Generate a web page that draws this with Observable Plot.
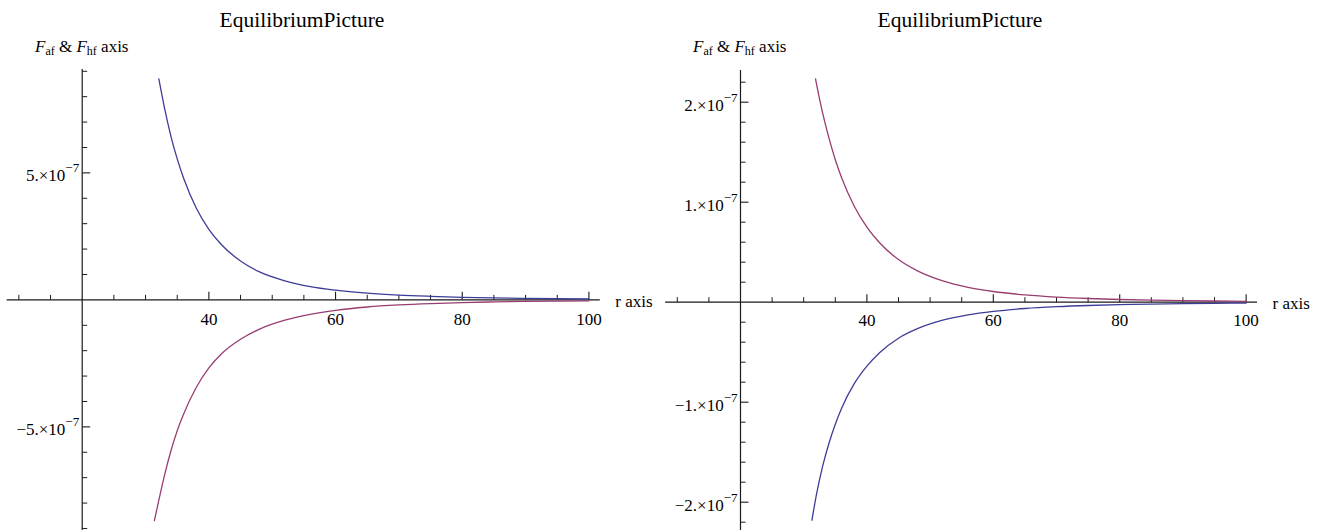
<!DOCTYPE html>
<html><head><meta charset="utf-8">
<script src="https://cdn.jsdelivr.net/npm/d3@7"></script>
<script src="https://cdn.jsdelivr.net/npm/@observablehq/plot@0.6"></script>
<style>
html,body{margin:0;padding:0;background:#fff;}
#wrap{display:flex;width:1320px;height:530px;overflow:hidden;}
.panel{position:relative;width:660px;height:530px;}
.title{position:absolute;top:10px;font:21.5px 'Liberation Serif',serif;line-height:1;white-space:nowrap;transform:translateX(-50%);color:#000;}
.ylab{position:absolute;top:38px;font:17px 'Liberation Serif',serif;line-height:1;white-space:nowrap;color:#000;}
.ylab i{font-style:italic;}
.ylab sub{font-size:12px;vertical-align:baseline;position:relative;top:3px;}
.plot{position:absolute;left:0;top:62px;}
</style></head><body><div id="wrap"></div><script>
// ---------- data ----------
const chartTitle = "EquilibriumPicture";
const xAxisLabel = "r axis";

// Left panel: blue (positive) and purple (negative) curves
const leftBlueR = [32.1, 33, 34, 35, 36, 38, 40, 42, 45, 48, 52, 56, 60, 65, 70, 75, 80, 85, 90, 95, 100];
const leftBlueV = [8.70e-7, 7.55e-7, 6.45e-7, 5.55e-7, 4.80e-7, 3.62e-7, 2.78e-7, 2.17e-7, 1.53e-7, 1.10e-7, 0.75e-7, 0.52e-7, 0.38e-7, 0.265e-7, 0.19e-7, 0.14e-7, 0.10e-7, 0.075e-7, 0.058e-7, 0.045e-7, 0.036e-7];
const leftPurpleR = [31.4, 32, 33, 34, 35, 36, 38, 40, 42, 45, 48, 52, 56, 60, 65, 70, 75, 80, 85, 90, 95, 100];
const leftPurpleV = [-8.69e-7, -8.0e-7, -6.9e-7, -5.95e-7, -5.15e-7, -4.5e-7, -3.45e-7, -2.68e-7, -2.12e-7, -1.55e-7, -1.15e-7, -0.80e-7, -0.57e-7, -0.41e-7, -0.28e-7, -0.20e-7, -0.145e-7, -0.105e-7, -0.08e-7, -0.06e-7, -0.047e-7, -0.037e-7];

// Right panel: purple (positive) and blue (negative) curves
const rightPurpleR = [31.87, 32, 33, 34, 35, 36, 38, 40, 42, 45, 48, 52, 56, 60, 65, 70, 75, 80, 85, 90, 95, 100];
const rightPurpleV = [2.234e-7, 2.19e-7, 1.89e-7, 1.64e-7, 1.425e-7, 1.245e-7, 0.96e-7, 0.75e-7, 0.594e-7, 0.426e-7, 0.313e-7, 0.213e-7, 0.149e-7, 0.107e-7, 0.073e-7, 0.051e-7, 0.037e-7, 0.027e-7, 0.020e-7, 0.0153e-7, 0.0118e-7, 0.0092e-7];
const rightBlueR = [31.3, 32, 33, 34, 35, 36, 38, 40, 42, 45, 48, 52, 56, 60, 65, 70, 75, 80, 85, 90, 95, 100];
const rightBlueV = [-2.18e-7, -1.93e-7, -1.64e-7, -1.41e-7, -1.22e-7, -1.06e-7, -0.815e-7, -0.64e-7, -0.505e-7, -0.36e-7, -0.265e-7, -0.18e-7, -0.127e-7, -0.092e-7, -0.063e-7, -0.045e-7, -0.033e-7, -0.025e-7, -0.019e-7, -0.0145e-7, -0.0113e-7, -0.009e-7];

// axes / ticks
const xDomain = [8.15, 101.8];
const xOrigin = 20;
const xMajorTicks = [40, 60, 80, 100];
const xMinorTicks = [10, 15, 25, 30, 35, 45, 50, 55, 65, 70, 75, 85, 90, 95];
const xTickLabels = ["40", "60", "80", "100"];

const leftYDomain = [-9.08e-7, 9.07e-7];
const leftYMajorTicks = [-5e-7, 5e-7];
const leftYMinorTicks = [-9e-7, -8e-7, -7e-7, -6e-7, -4e-7, -3e-7, -2e-7, -1e-7, 1e-7, 2e-7, 3e-7, 4e-7, 6e-7, 7e-7, 8e-7, 9e-7];
const leftYTickLabels = ["\u22125.\u00d710^\u22127", "5.\u00d710^\u22127"];

const rightYDomain = [-2.283e-7, 2.317e-7];
const rightYMajorTicks = [-2e-7, -1e-7, 1e-7, 2e-7];
const rightYMinorTicks = [-2.2e-7, -1.8e-7, -1.6e-7, -1.4e-7, -1.2e-7, -0.8e-7, -0.6e-7, -0.4e-7, -0.2e-7, 0.2e-7, 0.4e-7, 0.6e-7, 0.8e-7, 1.2e-7, 1.4e-7, 1.6e-7, 1.8e-7, 2.2e-7];
const rightYTickLabels = ["\u22122.\u00d710^\u22127", "\u22121.\u00d710^\u22127", "1.\u00d710^\u22127", "2.\u00d710^\u22127"];

const BLUE = "#3d3d99";
const PURPLE = "#993d71";
const AXIS = "#1a1a1a";
const SERIF = "Liberation Serif";

// tick symbols (line segments drawn from the anchor point)
const tickUp = {draw(ctx, size) { const l = Math.sqrt(size / Math.PI); ctx.moveTo(0, 0); ctx.lineTo(0, -l); }};
const tickRight = {draw(ctx, size) { const l = Math.sqrt(size / Math.PI); ctx.moveTo(0, 0); ctx.lineTo(l, 0); }};

function rows(rs, vs) { return rs.map((r, i) => ({r, v: vs[i]})); }

function makePlot(cfg) {
  const svg = Plot.plot({
    width: 660,
    height: 468,
    marginLeft: cfg.marginLeft,
    marginRight: cfg.marginRight,
    marginTop: cfg.marginTop,
    marginBottom: 0,
    style: {fontFamily: SERIF, fontSize: "17px", background: "#fff", color: "#000", overflow: "visible"},
    x: {domain: xDomain, axis: null},
    y: {domain: cfg.yDomain, axis: null},
    marks: [
      Plot.ruleY([0], {stroke: AXIS, strokeWidth: 1.2}),
      Plot.ruleX([xOrigin], {stroke: AXIS, strokeWidth: 1.2}),
      Plot.dot(xMinorTicks, {x: d => d, y: 0, r: 5, symbol: tickUp, fill: "none", stroke: AXIS, strokeWidth: 1}),
      Plot.dot(xMajorTicks, {x: d => d, y: 0, r: 8, symbol: tickUp, fill: "none", stroke: AXIS, strokeWidth: 1.1}),
      Plot.dot(cfg.yMinor, {x: xOrigin, y: d => d, r: 5, symbol: tickRight, fill: "none", stroke: AXIS, strokeWidth: 1}),
      Plot.dot(cfg.yMajor, {x: xOrigin, y: d => d, r: 8, symbol: tickRight, fill: "none", stroke: AXIS, strokeWidth: 1.1}),
      Plot.text(xMajorTicks, {x: d => d, y: 0, text: (d, i) => xTickLabels[i], dy: cfg.xLabelDy, fontSize: 17, fontFamily: SERIF, fill: "#000"}),
      Plot.text(cfg.yMajor, {x: xOrigin, y: d => d, text: (d, i) => cfg.yLabels[i], textAnchor: "end", dx: -3, dy: 3, fontSize: 17, fontFamily: SERIF, fill: "#000"}),
      Plot.text([xAxisLabel], {x: xDomain[1], y: 0, text: d => d, textAnchor: "start", dx: 15, dy: cfg.rLabelDy, fontSize: 17, fontFamily: SERIF, fill: "#000"}),
      Plot.line(rows(cfg.s1r, cfg.s1v), {x: "r", y: "v", stroke: cfg.s1c, strokeWidth: 1.3, curve: "monotone-x"}),
      Plot.line(rows(cfg.s2r, cfg.s2v), {x: "r", y: "v", stroke: cfg.s2c, strokeWidth: 1.3, curve: "monotone-x"})
    ]
  });
  // turn "a^b" labels into mantissa + superscript exponent
  d3.select(svg).selectAll("text").each(function() {
    const s = this.textContent;
    const k = s.indexOf("^");
    if (k < 0) return;
    const t = d3.select(this);
    t.text(null);
    t.append("tspan").text(s.slice(0, k));
    t.append("tspan").attr("dy", -9).attr("font-size", 13).text(s.slice(k + 1));
  });
  return svg;
}

function makePanel(cfg) {
  const p = document.createElement("div");
  p.className = "panel";
  const t = document.createElement("div");
  t.className = "title";
  t.style.left = cfg.titleX + "px";
  t.textContent = chartTitle;
  const yl = document.createElement("div");
  yl.className = "ylab";
  yl.style.left = cfg.ylabX + "px";
  yl.innerHTML = "<i>F</i><sub>af</sub> &amp; <i>F</i><sub>hf</sub> axis";
  const holder = document.createElement("div");
  holder.className = "plot";
  holder.appendChild(makePlot(cfg));
  p.appendChild(t); p.appendChild(yl); p.appendChild(holder);
  return p;
}

const wrap = document.getElementById("wrap");
wrap.appendChild(makePanel({
  titleX: 302, ylabX: 35,
  marginLeft: 6.65, marginRight: 60.2, marginTop: 7,
  yDomain: leftYDomain, yMajor: leftYMajorTicks, yMinor: leftYMinorTicks, yLabels: leftYTickLabels,
  xLabelDy: 20, rLabelDy: 2,
  s1r: leftBlueR, s1v: leftBlueV, s1c: BLUE,
  s2r: leftPurpleR, s2v: leftPurpleV, s2c: PURPLE
}));
wrap.appendChild(makePanel({
  titleX: 300, ylabX: 33,
  marginLeft: 5.1, marginRight: 63, marginTop: 8,
  yDomain: rightYDomain, yMajor: rightYMajorTicks, yMinor: rightYMinorTicks, yLabels: rightYTickLabels,
  xLabelDy: 18, rLabelDy: 1,
  s1r: rightPurpleR, s1v: rightPurpleV, s1c: PURPLE,
  s2r: rightBlueR, s2v: rightBlueV, s2c: BLUE
}));
</script></body></html>
